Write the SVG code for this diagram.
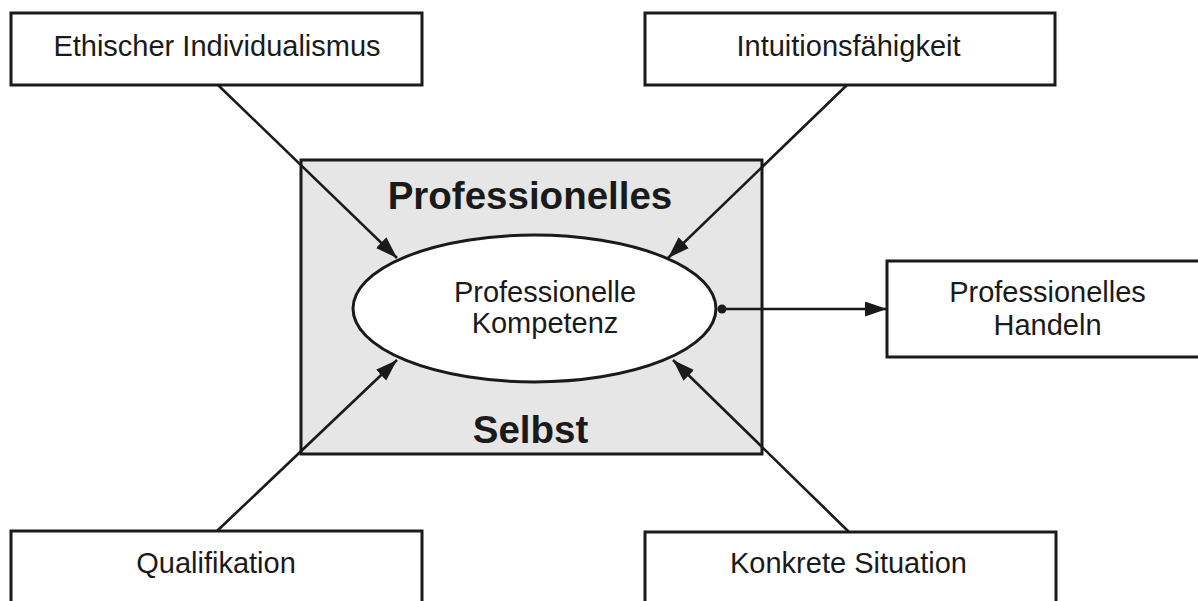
<svg xmlns="http://www.w3.org/2000/svg" width="1198" height="601" viewBox="0 0 1198 601">
<style>
.box{fill:#fff;stroke:#1a1a1a;stroke-width:3}
.core{fill:#e6e6e6;stroke:#1a1a1a;stroke-width:3}
.ell{fill:#fff;stroke:#1a1a1a;stroke-width:3}
.t{font-family:"Liberation Sans",Arial,sans-serif;font-size:29px;fill:#1a1a1a;text-anchor:middle}
.b{font-family:"Liberation Sans",Arial,sans-serif;font-size:38.5px;font-weight:bold;fill:#1a1a1a;text-anchor:middle}
.ln{stroke:#1a1a1a;stroke-width:2.6;fill:none;marker-end:url(#ah)}
</style>
<defs>
<marker id="ah" markerUnits="userSpaceOnUse" markerWidth="24" markerHeight="16" refX="22" refY="7.5" orient="auto">
<path d="M0,0 L22,7.5 L0,15 z" fill="#1a1a1a"/>
</marker>
</defs>
<g id="core">
<rect class="core" x="301" y="160" width="461" height="294"/>
<text class="b" x="530" y="209">Professionelles</text>
<text class="b" x="530.5" y="443">Selbst</text>
</g>
<g id="n-ethisch">
<rect class="box" x="11" y="13" width="411" height="72"/>
<text class="t" x="217" y="56">Ethischer Individualismus</text>
</g>
<g id="n-intuition">
<rect class="box" x="645" y="13" width="410" height="72"/>
<text class="t" x="848.5" y="56">Intuitionsfähigkeit</text>
</g>
<g id="n-qualifikation">
<rect class="box" x="11" y="531" width="411" height="90"/>
<text class="t" x="216" y="573">Qualifikation</text>
</g>
<g id="n-situation">
<rect class="box" x="645" y="532" width="411" height="90"/>
<text class="t" x="848.5" y="573">Konkrete Situation</text>
</g>
<g id="n-handeln">
<rect class="box" x="887" y="261" width="315" height="96"/>
<text class="t" x="1047.5" y="302">Professionelles</text>
<text class="t" x="1047.5" y="335">Handeln</text>
</g>
<g id="connectors">
<line class="ln" x1="218" y1="85" x2="397" y2="258"/>
<line class="ln" x1="847" y1="85" x2="668" y2="258"/>
<line class="ln" x1="217" y1="531" x2="397" y2="360"/>
<line class="ln" x1="849" y1="532" x2="673" y2="360"/>
<line class="ln" x1="722" y1="309" x2="887" y2="309"/>
</g>
<g id="n-kompetenz">
<ellipse class="ell" cx="534.5" cy="308.5" rx="181.5" ry="73.5"/>
<text class="t" x="545" y="302">Professionelle</text>
<text class="t" x="545" y="333">Kompetenz</text>
<circle cx="722" cy="309" r="4.5" fill="#1a1a1a"/>
</g>
</svg>
